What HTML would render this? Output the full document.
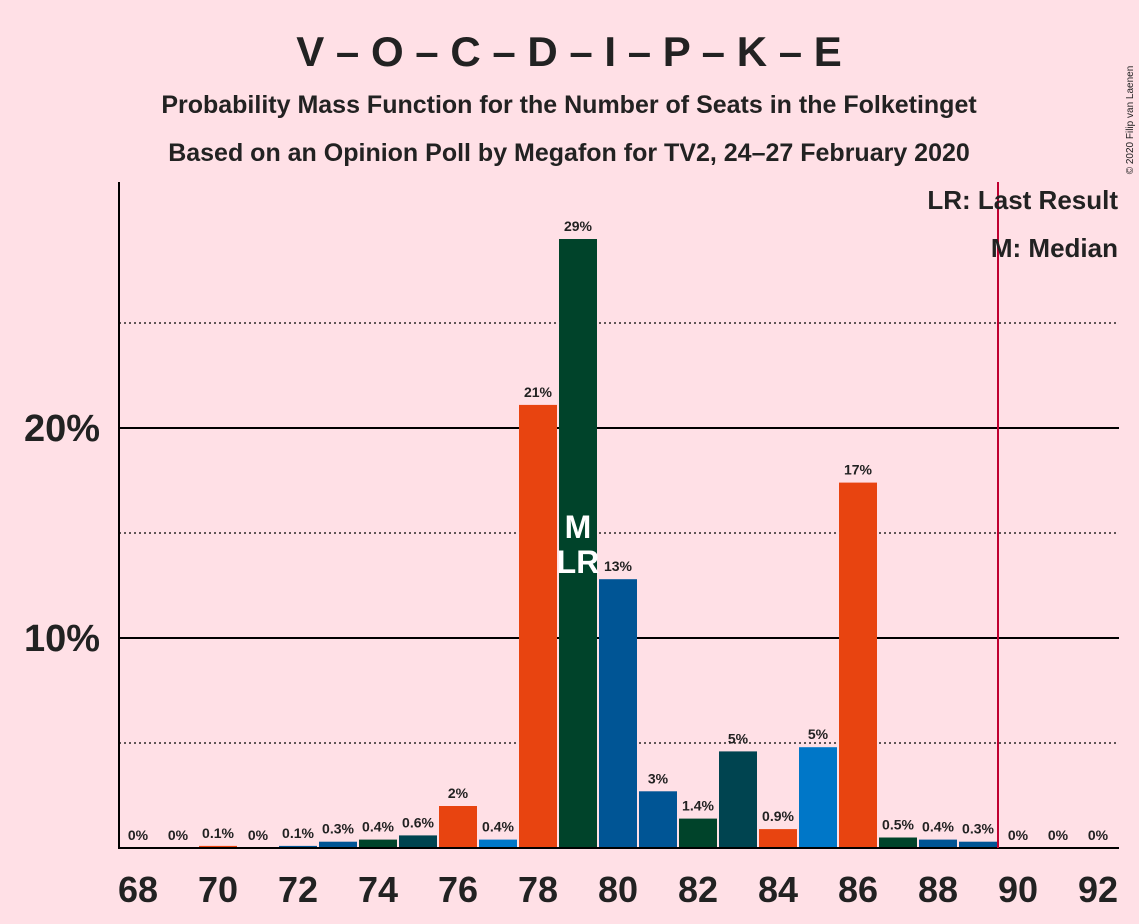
<!DOCTYPE html>
<html><head><meta charset="utf-8"><style>
body{margin:0;background:#FFE0E6;}
svg{display:block;font-family:"Liberation Sans",sans-serif;}
</style></head><body>
<svg id="c" width="1139" height="924">
<rect width="1139" height="924" fill="#FFE0E6"/>
<text x="569" y="66" text-anchor="middle" font-size="42" font-weight="bold" fill="#222">V – O – C – D – I – P – K – E</text>
<text x="569" y="113" text-anchor="middle" font-size="25" font-weight="bold" fill="#222">Probability Mass Function for the Number of Seats in the Folketinget</text>
<text x="569" y="161" text-anchor="middle" font-size="25" font-weight="bold" fill="#222">Based on an Opinion Poll by Megafon for TV2, 24–27 February 2020</text>
<text x="1133" y="120" font-size="10" fill="#222" transform="rotate(-90 1133 120)" text-anchor="middle">© 2020 Filip van Laenen</text>
<g id="grid"></g>
<g id="bars"></g>
<line x1="119" y1="182" x2="119" y2="849" stroke="#000" stroke-width="2"/>
<line x1="119" y1="848" x2="1119" y2="848" stroke="#000" stroke-width="2"/>
<line x1="998" y1="182" x2="998" y2="848" stroke="#C00030" stroke-width="2"/>
<text x="1118" y="209" text-anchor="end" font-size="26" font-weight="bold" fill="#222">LR: Last Result</text>
<text x="1118" y="257" text-anchor="end" font-size="26" font-weight="bold" fill="#222">M: Median</text>
</svg>
<script>
const seats=[68,69,70,71,72,73,74,75,76,77,78,79,80,81,82,83,84,85,86,87,88,89,90,91,92];
const probs=[0,0,0.1,0,0.1,0.3,0.4,0.6,2.0,0.4,21.1,29.0,12.8,2.7,1.4,4.6,0.9,4.8,17.4,0.5,0.4,0.3,0,0,0];
const labels=["0%","0%","0.1%","0%","0.1%","0.3%","0.4%","0.6%","2%","0.4%","21%","29%","13%","3%","1.4%","5%","0.9%","5%","17%","0.5%","0.4%","0.3%","0%","0%","0%"];
const colors=["#E84410","#E84410","#E84410","#E84410","#005595","#005595","#00432A","#004450","#E84410","#0077C8","#E84410","#00432A","#005595","#005595","#00432A","#004450","#E84410","#0077C8","#E84410","#00432A","#005595","#005595","#005595","#005595","#005595"];
const yTicks=[10,20];
const yDotted=[5,15,25];
const xTicks=[68,70,72,74,76,78,80,82,84,86,88,90,92];
const medianSeat=79, lastResultSeat=79;
const NS="http://www.w3.org/2000/svg";
const X=s=>138+(s-68)*40;
const Y=p=>848-p*21;
function mk(t,a,p){const e=document.createElementNS(NS,t);for(const k in a)e.setAttribute(k,a[k]);p.appendChild(e);return e;}
const svg=document.getElementById('c'),grid=document.getElementById('grid'),bars=document.getElementById('bars');
yDotted.forEach(v=>{const l=mk('line',{x1:119,x2:1119,y1:Y(v),y2:Y(v),stroke:'#000','stroke-width':1.3,'stroke-dasharray':'2,3'},grid);

});
yTicks.forEach(v=>{const l=mk('line',{x1:119,x2:1119,y1:Y(v),y2:Y(v),stroke:'#000','stroke-width':2},grid);


const t=mk('text',{x:100,y:Y(v)+13,'text-anchor':'end','font-size':38,'font-weight':'bold',fill:'#222'},svg);t.textContent=v+'%';

});
seats.forEach((s,i)=>{const p=probs[i];
if(p>0){const r=mk('rect',{x:X(s)-19,y:Y(p),width:38,height:p*21,fill:colors[i]},bars);

}
const t=mk('text',{x:X(s),y:Y(p)-8,'text-anchor':'middle','font-size':14,'font-weight':'bold',fill:'#222'},bars);t.textContent=labels[i];


if(s===medianSeat){const m=mk('text',{x:X(s),y:Y(15)+5,'text-anchor':'middle','font-size':32,'font-weight':'bold',fill:'#fff'},bars);m.textContent='M';

}
if(s===lastResultSeat){const m=mk('text',{x:X(s),y:Y(15)+40,'text-anchor':'middle','font-size':32,'font-weight':'bold',fill:'#fff'},bars);m.textContent='LR';

}});
xTicks.forEach(s=>{const t=mk('text',{x:X(s),y:902,'text-anchor':'middle','font-size':36,'font-weight':'bold',fill:'#222'},svg);t.textContent=s;

});
</script>
</body></html>
